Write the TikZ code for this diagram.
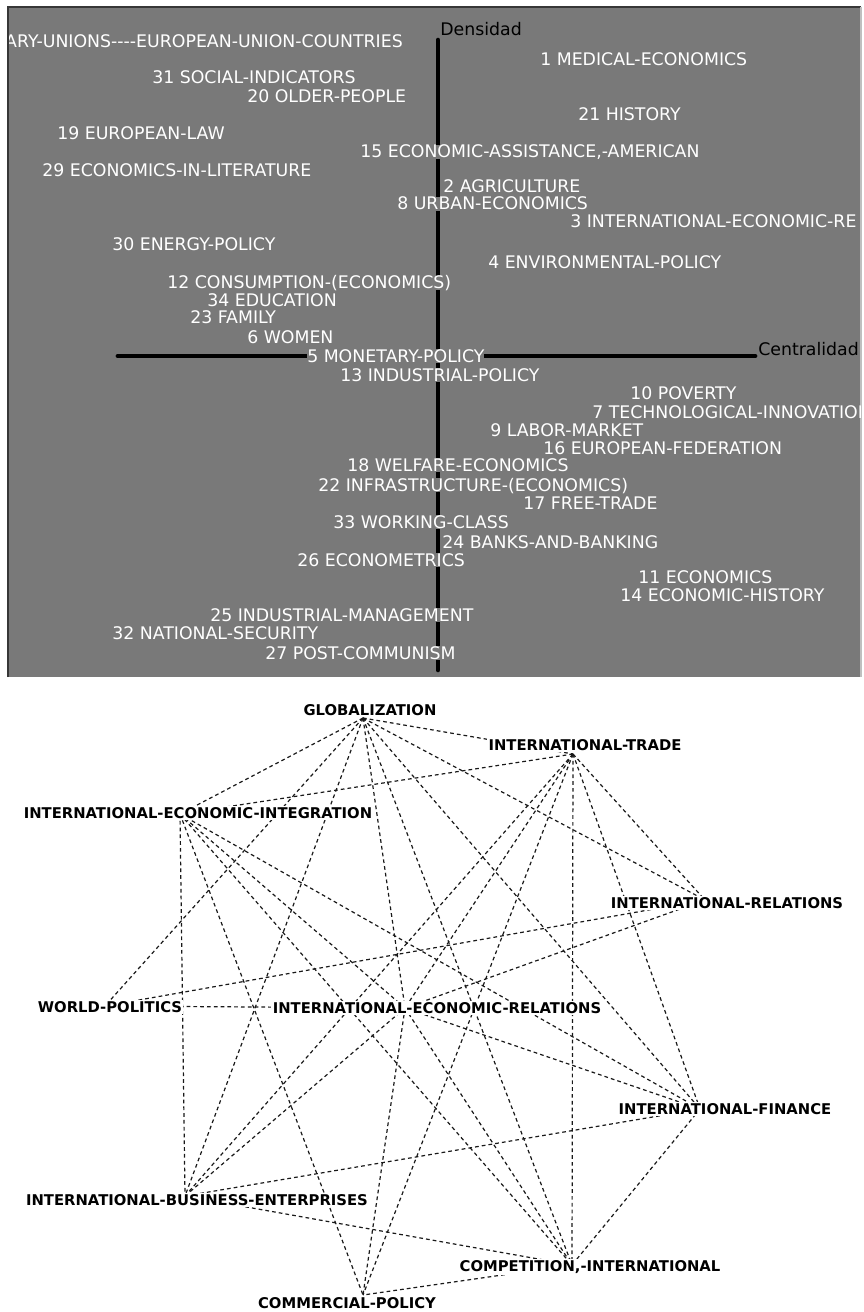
\documentclass[tikz,border=0pt]{standalone}
\usepackage{fontspec}
\usetikzlibrary{positioning}
\newfontfamily\dejavu{DejaVu Sans}
\definecolor{cpanel}{RGB}{121,121,121}
\definecolor{cframe}{RGB}{55,55,55}
\tikzset{
  kw/.style={font=\dejavu\fontsize{13}{14}\selectfont, text=white, fill=cpanel, inner sep=0pt, text height=9.6pt, text depth=0.6pt, anchor=west},
  axlabel/.style={font=\dejavu\fontsize{13}{14}\selectfont, text=black, inner sep=0pt, anchor=west},
  theme/.style={font=\dejavu\bfseries\fontsize{11.1}{12}\selectfont, fill=white, inner sep=1pt},
  netedge/.style={black!90, line width=0.9pt, dash pattern=on 2.8pt off 2.3pt},
}

\begin{document}
\begin{tikzpicture}[x=0.75pt, y=-0.75pt]
\useasboundingbox (0,0) rectangle (863,1312);
% strategic diagram
\fill[cpanel] (8,7) rectangle (861,677);
\draw[cframe, line width=1.5pt] (8,677) -- (8,7) -- (861,7);
\draw[black!25, line width=0.8pt] (861,7) -- (861,677);
\draw[black, line width=3.4pt, line cap=round] (438,40) -- (438,670);
\draw[black, line width=3.6pt, line cap=round] (118,356) -- (755,356);
\node[axlabel] (dens) at (440,29) {Densidad};
\node[axlabel] (cent) at (758,349) {Centralidad};
\begin{scope}
\clip (9,8) rectangle (860,676);
\node[kw, anchor=east] (k28) at (403,42) {ARY-UNIONS----EUROPEAN-UNION-COUNTRIES};
\node[kw] (k1) at (540,60) {1 MEDICAL-ECONOMICS};
\node[kw] (k31) at (152,78) {31 SOCIAL-INDICATORS};
\node[kw] (k20) at (247,97) {20 OLDER-PEOPLE};
\node[kw] (k21) at (578,115) {21 HISTORY};
\node[kw] (k19) at (57,134) {19 EUROPEAN-LAW};
\node[kw] (k15) at (360,152) {15 ECONOMIC-ASSISTANCE,-AMERICAN};
\node[kw] (k29) at (42,171) {29 ECONOMICS-IN-LITERATURE};
\node[kw] (k2) at (443,187) {2 AGRICULTURE};
\node[kw] (k8) at (397,204) {8 URBAN-ECONOMICS};
\node[kw] (k3) at (570,222) {3 INTERNATIONAL-ECONOMIC-RE};
\node[kw] (k30) at (112,245) {30 ENERGY-POLICY};
\node[kw] (k4) at (488,263) {4 ENVIRONMENTAL-POLICY};
\node[kw] (k12) at (167,283) {12 CONSUMPTION-(ECONOMICS)};
\node[kw] (k34) at (207,300) {34 EDUCATION};
\node[kw] (k23) at (190,318) {23 FAMILY};
\node[kw] (k6) at (247,337) {6 WOMEN};
\node[kw] (k5) at (307,356) {5 MONETARY-POLICY};
\node[kw] (k13) at (340,375) {13 INDUSTRIAL-POLICY};
\node[kw] (k10) at (630,393) {10 POVERTY};
\node[kw] (k7) at (592,412) {7 TECHNOLOGICAL-INNOVATION};
\node[kw] (k9) at (490,430) {9 LABOR-MARKET};
\node[kw] (k16) at (543,448) {16 EUROPEAN-FEDERATION};
\node[kw] (k18) at (347,465) {18 WELFARE-ECONOMICS};
\node[kw] (k22) at (318,485) {22 INFRASTRUCTURE-(ECONOMICS)};
\node[kw] (k17) at (523,503) {17 FREE-TRADE};
\node[kw] (k33) at (333,522) {33 WORKING-CLASS};
\node[kw] (k24) at (442,542) {24 BANKS-AND-BANKING};
\node[kw] (k26) at (297,560) {26 ECONOMETRICS};
\node[kw] (k11) at (638,577) {11 ECONOMICS};
\node[kw] (k14) at (620,595) {14 ECONOMIC-HISTORY};
\node[kw] (k25) at (210,615) {25 INDUSTRIAL-MANAGEMENT};
\node[kw] (k32) at (112,633) {32 NATIONAL-SECURITY};
\node[kw] (k27) at (265,653) {27 POST-COMMUNISM};
\end{scope}
% thematic network
\coordinate (glob) at (363,718);
\coordinate (trade) at (573,754);
\coordinate (integ) at (180,814);
\coordinate (relat) at (705,900);
\coordinate (world) at (105,1006);
\coordinate (ecorel) at (405,1008);
\coordinate (finan) at (700,1109);
\coordinate (busin) at (185,1196);
\coordinate (compet) at (572,1265);
\coordinate (commer) at (363,1295);
\foreach \a/\b in {glob/trade, glob/integ, glob/world, glob/busin, glob/ecorel, glob/compet, glob/finan, glob/relat,
  trade/integ, trade/busin, trade/ecorel, trade/commer, trade/compet, trade/finan, trade/relat,
  integ/busin, integ/commer, integ/compet, integ/finan, integ/ecorel,
  world/ecorel, world/relat, relat/ecorel,
  ecorel/finan, ecorel/compet, ecorel/busin, ecorel/commer,
  finan/busin, finan/compet, busin/compet, compet/commer}
  \draw[netedge] (\a) -- (\b);
\node[theme] (globl) at (370,710) {GLOBALIZATION};
\node[theme] (tradel) at (585,745) {INTERNATIONAL-TRADE};
\node[theme] (integl) at (198,813) {INTERNATIONAL-ECONOMIC-INTEGRATION};
\node[theme] (relatl) at (727,903) {INTERNATIONAL-RELATIONS};
\node[theme] (worldl) at (110,1007) {WORLD-POLITICS};
\node[theme] (ecorell) at (437,1008) {INTERNATIONAL-ECONOMIC-RELATIONS};
\node[theme] (finanl) at (725,1109) {INTERNATIONAL-FINANCE};
\node[theme] (businl) at (197,1200) {INTERNATIONAL-BUSINESS-ENTERPRISES};
\node[theme] (competl) at (590,1267) {COMPETITION,-INTERNATIONAL};
\node[theme] (commerl) at (347,1303) {COMMERCIAL-POLICY};
\end{tikzpicture}
\end{document}
